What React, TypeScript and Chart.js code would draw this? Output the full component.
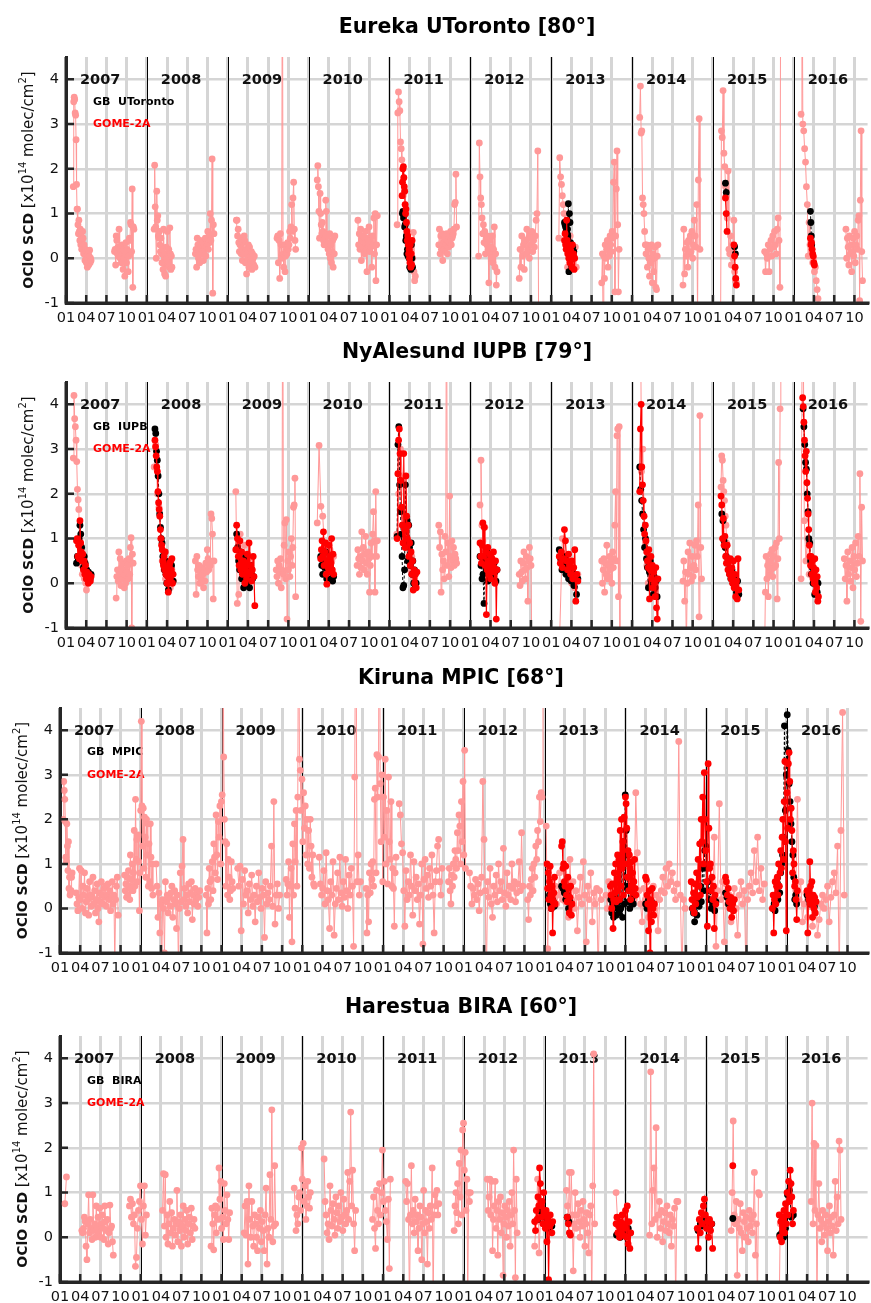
import React, { useEffect, useRef } from 'react';
import { Chart, registerables } from 'chart.js';

Chart.register(...registerables);

// Each segment: [start decimal year, end decimal year, OClO SCD values (x1e14 molec/cm2)]
type Seg = [number, number, number[]];

const yearStarts = [2007, 2008, 2009, 2010, 2011, 2012, 2013, 2014, 2015, 2016];
const yearLabels = ['2007', '2008', '2009', '2010', '2011', '2012', '2013', '2014', '2015', '2016'];
const quarterLabels = ['01', '04', '07', '10'];

// ---------------- Eureka UToronto ----------------
const eurekaGome: Seg[] = [
  [2007.09, 2007.31, [1.6, 3.5, 3.6, 3.55, 3.25, 3.2, 2.65, 1.65, 1.1, 1.1, 0.75, 0.55, 0.85, 0.6, 0.4, 0.65, 0.3, 0.5, 0.2, 0.35, 0.6, 0.45, 0.1, 0.3, 0.15, -0.05, 0.2, 0.05, -0.1, 0.15, -0.2, 0, 0.1, -0.15, 0.05, 0.18, -0.1, 0, -0.05]],
  [2007.60, 2007.84, [0.15, 0.2, -0.15, 0.5, 0.4, 0.1, 0.25, 0.05, 0.65, 0.2, 0, 0.15, -0.1, 0.3, 0.1, -0.25, 0.2, 0, -0.4, 0.1, 0.35, -0.1, 0.2, 0.15, -0.3, 0.05, 0.45, 0.4, 0.8, 0.75, 0.15, 1.55, -0.65, 0.7, 0.65]],
  [2008.09, 2008.31, [0.65, 2.08, 1.15, 0.7, 0, 1.5, 0.85, 0.95, 0.5, 0.45, 0.6, 0.3, 0.15, 0.45, 0.1, -0.1, 0.2, -0.25, 0.65, 0.05, -0.35, 0.1, -0.4, 0.25, 0, 0.6, 0.1, -0.1, 0.2, -0.2, 0.68, 0.1, -0.25, 0.05, -0.2]],
  [2008.60, 2008.83, [0.1, 0.2, -0.2, 0.45, 0.3, 0, 0.2, -0.1, 0.4, 0.25, 0.15, 0.1, 0.35, -0.05, 0.3, 0.2, 0.45, 0.05, 0.25, 0.3, 0.6, 0.2, 0.5, 0.35, 1.0, 0.4, 0.85, 2.22, -0.78, 0.75, 0.55]],
  [2009.107, 2009.337, [0.85, 0.85, 0.5, 0.65, 0.35, 0.15, 0.3, 0.45, 0.1, 0.2, -0.05, 0.35, 0.1, 0.5, 0.4, -0.1, 0.2, -0.35, 0.1, 0, 0.3, -0.2, 0.25, 0.05, -0.1, 0.15, -0.25, 0.1, 0, -0.15, 0.05, -0.2]],
  [2009.61, 2009.84, [0.45, 0.5, -0.1, 0.4, -0.45, 0.55, 0.3, 0, 8, 0.1, -0.2, 0.3, -0.3, 0.05, 0.2, 0.1, 0.35, 0.2, 0.3, 0.6, 0.45, 0.7, 1.2, 0.6, 1.35, 1.7, 0.65, 0.4, 0.2]],
  [2010.107, 2010.325, [1.75, 2.07, 1.6, 1.05, 0.45, 1.45, 1.0, 0.75, 0.55, 0.8, 0.6, 0.4, 0.3, 0.55, 0.45, 1.3, 1.05, 0.3, 0.5, 0.2, 0.35, 0.1, 0.55, 0, 0.3, -0.1, 0.15, 0.4, -0.2, 0.45, 0.1, 0.5]],
  [2010.61, 2010.85, [0.85, 0.3, 0.55, 0.2, 0.65, -0.05, 0.4, 0.25, 0.5, 0.1, 0.35, 0.6, 0.2, -0.3, 0.45, 0.3, 0.7, 0.15, 0.4, 0.25, -0.2, 0.5, 0.3, 0.9, 0.1, 1.0, -0.5, 0.3, 0.95]],
  [2011.095, 2011.32, [0.75, 3.25, 3.72, 3.5, 3.3, 2.6, 2.45, 2.2, 2.0, 1.4, 1.8, 1.5, 1.2, 1.0, 0.8, 0.5, 0.6, 0.3, 0.1, 0.2, -0.1, 0.15, -0.2, 0, 0.58, -0.3, -0.5, -0.4]],
  [2011.61, 2011.83, [0.3, 0.65, 0.1, 0.5, 0.2, 0.55, -0.05, 0.35, 0.2, 0.45, 0.15, 0.3, 0.55, 0.1, 0.4, 0.25, 0.5, 0.35, 0.6, 0.3, 0.45, 0.5, 0.55, 0.65, 1.2, 1.25, 1.88, 0.7]],
  [2012.103, 2012.33, [0.05, 2.58, 1.82, 1.35, 1.2, 0.9, 0.55, 0.75, 0.35, 0.6, 0.1, 0.45, 0.3, 0.5, 0.2, -0.55, 0.4, 0.1, 0.25, 0, 0.5, -0.1, 0.2, 0.7, -0.2, 0.1, -0.6, -0.3]],
  [2012.605, 2012.845, [-0.45, 0.2, -0.2, 0.5, 0.05, 0.3, -0.25, 0.4, 0.1, 0.65, 0.2, 0.45, 0, 0.55, 0.3, 0.6, 0.15, 0.4, 0.25, 0.5, 0.85, 1.0, 2.4, -1.5]],
  [2013.095, 2013.31, [0.45, 2.25, 1.82, 1.65, 1.4, 1.2, 1.0, 0.8, 0.6, 0.3, -0.2, 0.4, 0.2, 0.5, 0.1, 0.3, -0.1, 0.2, 0, 0.25, -0.2]],
  [2013.625, 2013.84, [-0.55, 0.1, -1.5, 0.05, -0.45, 0.3, 0, 0.2, 0.4, -0.2, 0.25, 0.05, 0.5, 0.3, 0.15, 0.6, 0.45, 1.7, 2.15, -0.75, 0.5, 1.55, 2.4, 0.75, -0.75, 0.2]],
  [2014.095, 2014.32, [3.15, 3.85, 2.8, 2.85, 1.35, 1.2, 1.0, 0.6, 0.3, 0.1, 0.3, -0.2, 0.2, 0, -0.4, 0.25, -0.1, 0.3, -0.55, 0.1, -0.3, 0, 0.25, -0.65, -0.7, 0.05, 0.3]],
  [2014.63, 2014.84, [-0.6, 0.65, -0.35, 0.2, 0.05, 0.35, -0.2, 0.4, 0.1, 0.5, 0.15, 0.6, 0, 0.3, 0.85, 0.5, 0.25, 1.2, -1.3, 1.75, 3.12, 0.2]],
  [2015.095, 2015.29, [-1.5, 2.85, 2.7, 3.75, 2.35, 2.05, 1.6, 1.4, 0.9, 1.95, 0.2, 0.1, 0.5, -0.15, 0.3, 0, 0.85, -0.3, -0.5, -0.55]],
  [2015.64, 2015.84, [0.15, -0.3, 0.1, 0, 0.3, -0.3, 0.2, 0.4, 0.05, 0.5, 0.25, 0.6, 0.3, 0.1, 0.65, 0.9, 0.4, -0.65, 8]],
  [2016.09, 2016.30, [3.22, 8, 3.0, 2.85, 2.45, 2.15, 1.6, 1.2, 0.05, 0.8, 0.3, 0.1, 0.2, -0.1, 0, -0.3, -0.2, -0.5, -0.7, -0.9]],
  [2016.645, 2016.85, [0.65, 0, 0.45, 0.25, -0.15, 0.5, 0.1, 0.3, -0.3, 0.15, 0.45, 0.05, 0.6, -0.1, 0.3, 0.5, 0.2, 0.85, 0.95, -0.95, 1.3, 2.85, 0.15, -0.5]],
];
const eurekaCoinc: Seg[] = [
  [2011.156, 2011.28, [1.4, 1.7, 2.0, 2.05, 1.8, 1.6, 1.5, 1.2, 1.0, 1.1, 0.8, 0.6, 0.4, 0.5, 0.3, 0.1, 0.2, 0, -0.1, 0.3, -0.2, 0.1, -0.15, 0.4]],
  [2013.165, 2013.29, [0.4, 0.55, 0.3, 0.2, 0.85, 0.4, 0.1, 0.3, 0, 0.25, -0.1, 0.2, 0.15, 0, -0.2, 0.3, 0.05, 0.1, -0.25, 0]],
  [2015.155, 2015.175, [1.35, 1.0, 0.6]],
  [2015.26, 2015.29, [0.3, 0.05, -0.2, -0.45, -0.6]],
  [2016.206, 2016.255, [0.45, 0.3, 0.35, 0.2, 0.1, 0.05, -0.1, -0.15]],
];
const eurekaGB: Seg[] = [
  [2011.16, 2011.285, [1.0, 1.05, 0.9, 0.95, 0.7, 0.75, 0.4, 0.5, 0.1, 0.2, 0.05, 0.3, 0, -0.2, 0.1, -0.25, 0.3, 0, -0.2]],
  [2013.165, 2013.28, [0.8, 0.75, 0.7, 0.6, 0.55, 0.65, 0.5, 1.22, -0.3, 1.0, 0.8, 0.35, 0.2, 0.1, 0, 0.25, 0.05, 0.15]],
  [2015.155, 2015.165, [1.68, 1.47]],
  [2015.268, 2015.278, [0.26, 0.1]],
  [2016.206, 2016.222, [1.05, 0.8, 0.5, 0.3]],
];

// ---------------- NyAlesund IUPB ----------------
const nyGome: Seg[] = [
  [2007.09, 2007.27, [2.8, 4.2, 3.68, 3.5, 3.2, 2.72, 2.1, 1.87, 1.65, 1.0, 0.6, 0.85, 0.4, 0.2, 0.55, 0.3, 0.1, 0.45, 0, -0.15, 0.2, 0.1]],
  [2007.62, 2007.83, [-0.33, 0.15, 0.3, 0.05, 0.7, 0.2, 0.55, -0.05, 0.35, 0.1, 0.45, 0.2, -0.1, 0.3, 0, 0.5, 0.25, 0.4, 0.1, 0.55, 0.2, 0.8, 1.02, -1.0, 0.65, 0.45]],
  [2008.09, 2008.33, [2.6, 3.1, 2.0, 1.7, 1.0, 0.5, 0.3, 0.1, 0.4, 0.2, -0.1, 0.3, 0.05]],
  [2008.60, 2008.83, [0.5, -0.25, 0.6, 0.3, 0.15, 0.4, 0, 0.25, 0.1, 0.35, 0.2, -0.1, 0.3, 0.05, 0.45, 0.25, 0.75, 0.55, 0.3, 0.5, 0.4, 1.55, 1.45, 1.1, -0.35, 0.5]],
  [2009.10, 2009.30, [2.05, -0.45, -0.25, 1.1, 0.6, 0.2, 0.85, 0.4, 0, 0.5, 0.3, 0.1]],
  [2009.60, 2009.84, [0.3, 0.15, 0.5, 0, 0.4, 0.25, 0.55, -0.1, 0.3, 8, 0.2, 0.85, 1.35, 0.1, 1.42, -0.8, 0.5, 0.3, 0.7, 0.15, 0.6, 1.0, 0.4, 0.8, 1.7, 1.75, 2.35, -0.3]],
  [2010.107, 2010.31, [1.35, 3.08, 1.72, 1.5, 0.8, 0.9, 0.65, 0.75, 0.5, 0.6]],
  [2010.60, 2010.85, [0.4, 0.75, 0.55, 0.2, 0.6, 0.35, 1.15, 0.5, 0.8, 0.3, 0.65, 1.05, 0.45, 0.2, 0.7, 0.55, -0.2, 0.4, 0.9, 0.6, 1.1, 1.6, 0.95, -0.2, 2.05, 0.6, 0.95]],
  [2011.09, 2011.30, [1.1, 2.0, 3.0, 2.4, 1.5, 0.8, 0.5, 0.3, 0.6, 0.1]],
  [2011.61, 2011.83, [1.3, 0.8, 1.15, -0.2, 0.65, 0.3, 0.5, 0.1, 1.05, 0.7, 8, 0.4, 0.9, 0.15, 1.95, 0.6, 0.35, 0.95, 0.5, 0.8, 0.4, 0.65, 0.55, 0.45]],
  [2012.12, 2012.18, [1.75, 2.75, 1.3, 0.95, 0.7, 1.25]],
  [2012.605, 2012.76, [0.2, -0.05, 0.5, 0.25, 0.05, 0.45, 0.7, 0.3, 0.1, 0.6, 0.35, -0.4, 0.5, 0.8, 0.55, 0.4, -1.5]],
  [2013.10, 2013.33, [-1.5, 1.0, 0.5, 0.3, 0, -0.1, 0.2]],
  [2013.625, 2013.85, [0.5, 0, 0.3, 0.55, -0.2, 0.45, 0.2, 0.85, 0.1, 0.4, 0.15, 0.6, 0.3, 0.5, 0, 0.7, 0.35, 0.55, 1.3, 2.05, 0.5, 3.3, 3.45, -0.3, 3.5, -1.5]],
  [2014.10, 2014.20, [8, 2.5, 3.0, 1.5, 0.9, 0.4, 0]],
  [2014.63, 2014.86, [0.05, 0.5, -0.4, 0.25, -1.5, 0, 0.7, 0.2, 0.9, 0.35, 0.05, 0.6, 0.15, 0.4, 0.85, 0.3, 0.95, 0.6, 1.75, -0.75, 3.75, 0.8, 0.1]],
  [2015.10, 2015.17, [2.15, 2.85, 2.75, 2.3, 2.05, 1.85, 1.5, 1.3, 0.9]],
  [2015.64, 2015.84, [-1.5, -0.2, 0.6, 0.1, 0.4, -0.3, 0.5, 0.2, 0.65, 0.3, 0.75, 0.15, 0.6, 0.35, 0.8, 0.4, 0.9, -0.35, 0.55, 2.7, 1.0, 3.9, 8]],
  [2016.09, 2016.19, [0.1, 8, 1.4, 0.5, 1.0, 0.2]],
  [2016.625, 2016.85, [0.55, 0.1, 0.4, -0.4, 0.7, 0.2, 0.5, 0.05, 0.35, 0.8, -0.1, 0.6, 0.3, 0.9, 0.15, 0.45, 1.05, 0.6, 2.45, -0.85, 1.7, 0.5]],
];
const nyCoinc: Seg[] = [
  [2007.13, 2007.31, [0.95, 1.0, 0.6, 0.85, 0.55, 1.4, 0.9, 0.7, 0.5, 0.65, 0.3, 0.5, 0.2, 0.4, 0.1, 0.25, 0.15, 0, 0.2, 0.1, 0.05, 0.15]],
  [2008.10, 2008.325, [3.2, 3.05, 2.85, 2.6, 2.5, 2.05, 1.8, 1.65, 1.5, 1.2, 1.0, 0.85, 0.75, 0.5, 0.4, 0.6, 0.3, 0.7, 0.2, 0.35, 0, 0.15, -0.2, 0.25, 0.45, 0.1, 0.5, 0.3, 0.55, 0, 0.2]],
  [2009.10, 2009.335, [0.75, 1.3, 1.0, 0.6, 0.4, 0.95, 0.3, 0.7, 0.2, 0.5, 0.35, 0, 0.45, 0.1, 0.65, 0.25, 0.9, 0.2, 0.4, 0.05, 0.3, 0.6, 0.15, -0.5]],
  [2010.15, 2010.31, [0.55, 0.75, 0.95, 0.6, 1.15, 0.4, 0.7, 0.9, 0.2, -0.02, 0.5, 0.35, 0.85, 0.6, 0.25, 0.45, 1.0, 0.3, 0.65, 0.2]],
  [2011.095, 2011.34, [1.0, 2.45, 3.2, 3.45, 2.9, 2.3, 1.7, 1.3, 0.9, 2.9, 1.2, 0.8, 2.4, 1.5, 1.0, 1.3, 0.6, 0.9, 0.4, 0.7, 0.2, 0.5, -0.15, 0.3, 0, 0.2, -0.1, 0.25]],
  [2012.12, 2012.33, [0.9, 0.6, 0.45, 0.85, 1.35, 0.6, 1.25, 0.4, 0.7, -0.7, 0.3, 0.8, 0.5, 0.2, 0.65, 0.1, 0.45, 0.55, 0.25, 0.7, 0.35, 0, 0.5, -0.8, 0.3]],
  [2013.10, 2013.33, [0.6, 0.45, 0.7, 0.35, 0.55, 1.2, 0.95, 0.5, 0.3, 0.65, 0.4, 0.2, 0.5, 0.1, 0.35, 0.75, -0.4, 0.2, 0.05]],
  [2014.095, 2014.32, [2.05, 3.45, 4.0, 2.6, 2.2, 1.85, 1.5, 1.1, 1.3, 0.95, 0.7, 0.5, 0.35, 0.75, -0.35, 0.3, 0.6, 0.1, 0.4, -0.1, 0.25, 0, -0.3, 0.35, -0.55, -0.8, 0.1]],
  [2015.10, 2015.32, [1.95, 1.75, 1.0, 1.45, 0.85, 1.05, 0.6, 0.45, 0.85, 0.3, 0.5, 0.2, 0.55, 0.1, 0.35, 0, 0.5, -0.1, 0.2, -0.3, 0.05, -0.35, 0.55, -0.15]],
  [2016.11, 2016.305, [4.15, 3.95, 3.6, 3.2, 2.85, 2.5, 2.95, 2.25, 1.9, 1.55, 1.2, 0.85, 0.6, 0.4, 0.6, 0.2, 0.5, 0.1, 0.35, 0, 0.55, -0.2, 0.3, -0.1, 0.15, -0.4, -0.3]],
];
const nyGB: Seg[] = [
  [2007.13, 2007.31, [0.45, 0.6, 0.55, 1.0, 1.3, 1.1, 0.8, 0.5, 0.35, 0.6, 0.45, 0.2, 0.3, 0.1, 0.25, 0.05, 0.1, 0.2]],
  [2008.10, 2008.325, [3.45, 3.35, 2.95, 2.75, 2.4, 2.0, 1.55, 1.25, 1.0, 0.9, 0.6, 0.45, 0.3, 0.5, 0.2, 0, 0.35, -0.15, 0.1, 0.3, 0.05, 0.4, 0.2, 0.05]],
  [2009.11, 2009.32, [1.1, 0.8, 0.5, 0.3, 0.7, 0.1, 0.45, -0.1, 0.25, 0.6, 0, 0.35, 0.15, -0.1, 0.4, 0.2, 0.1, 0.15]],
  [2010.15, 2010.31, [0.6, 0.4, 0.2, 0.5, 0.35, 0.7, 0.1, 0.45, 0.3, 0.55, 0.1, 0.25, 0.05, 0.15]],
  [2011.095, 2011.33, [1.05, 3.1, 3.5, 2.2, 1.6, 1.1, 0.6, -0.1, -0.05, 0.3, 2.2, 0.9, 1.4, 0.5, 1.3, 0.8, 0.4, 0.9, 0.2, 0.5, 0, 0.3, -0.05, 0]],
  [2012.12, 2012.33, [0.6, 0.4, 0.1, 0.2, -0.45, 0.5, 0.3, 0.7, 0.05, 0.4, 0.6, 0.15, 0.35, 0.1, 0.45, 0.25, 0.05, 0.3]],
  [2013.10, 2013.33, [0.75, 0.55, 0.3, 0.45, 0.6, 0.2, 0.4, 0.1, 0.3, 0.05, 0.25, -0.05, 0.15, -0.25, 0.1]],
  [2014.095, 2014.31, [2.6, 2.1, 1.85, 1.55, 1.2, 0.8, 1.0, 0.55, 0.35, -0.1, 0.25, 0.5, 0, 0.3, -0.25, 0.15, -0.1, 0.05, -0.3]],
  [2015.11, 2015.32, [1.55, 1.4, 0.95, 0.8, 0.6, 0.45, 0.3, 0.2, 0.1, 0.3, 0, 0.15, -0.1, -0.2, 0.05, -0.25]],
  [2016.115, 2016.30, [3.9, 3.5, 3.1, 2.7, 2.55, 2.0, 1.6, 1.0, 0.9, 0.5, 0.2, 0.35, 0, 0.15, -0.25, 0.1, 0.05, -0.2, 0]],
];

// ---------------- Kiruna MPIC ----------------
const kirunaGome: Seg[] = [
  [2007.04, 2007.15, [2.0, 2.85, 2.65, 2.45, 1.95, 1.15, 1.05, 1.9, 1.4, 0.85, 1.5, 0.45, 0.7, 0.3, 0.35, 0.4, 0.7, 0.8]],
  [2007.20, 2007.72, [0.35, 0.1, -0.05, 0.25, 0.9, 0.2, 0.85, 0, 0.5, 0.3, 0.8, -0.1, 0.15, 0.45, 0.2, -0.15, 0.6, 0.3, 0.05, 0.25, 0.7, 0.1, 0.4, -0.1, 0.2, 0.55, 0, -0.3, 0.35, 0.15, 0.6, 0.3, 0.1, 0.45, 0.25, 0.5, 0.05, 0.3, 0.55, 0.2, 0.4, -0.05, 0.25, 0.6, 0.1, 0.3, -1.3, 0.2, 0.5, 0.7, -0.15]],
  [2007.80, 2008.15, [0.75, 0.4, 0.55, 0.25, 0.7, 0.3, 0.85, 0.5, 0.2, 1.2, 0.45, 0.65, 1.0, 0.4, 0.8, 1.75, 0.5, 2.45, 1.1, 1.55, 0.6, 1.65, 1.05, -0.05, 0.8, 2.2, 4.2, 2.3, 1.4, 2.25, 0.9, 2.05, 1.6, 0.7, 2.0, 1.2, 1.9, 0.5, 1.45, 0.6, 1.9, 1.15, 0.45, 1.0, 0.3]],
  [2008.19, 2008.73, [1.0, 0.5, -0.2, 0.35, -0.55, 0.1, -1.5, 0.2, 0, -1.0, 0.6, 0.15, 0.3, -0.1, 0.25, 0.05, 0.35, 0.5, -0.2, 0.2, 0.4, 0.1, -0.45, 0.3, -1.3, 0, 0.8, 0.15, 0.95, 1.55, 0.2, 0.45, 0.05, 0.3, -0.1, 0.55, 0.15, 0.35, 0.6, -0.25, 0.3, 0.1, 0.45, 0.2, 0.35, 0.05, 0.25, 0.4]],
  [2008.81, 2009.14, [0.3, -0.55, 0.45, 0.1, 0.9, 0.6, 0.2, 0.65, 1.05, 0.4, 1.45, 1.15, 0.8, 2.1, 1.2, 0.65, 1.95, 1.6, 2.3, 1.0, 2.4, 2.55, 8, 3.4, 2.0, 1.5, 0.5, 1.45, 0.3, 1.1, 0.7, 0.2, 0.4, 1.05, 0.6, 0.45]],
  [2009.20, 2009.72, [0.9, 0.5, 0.95, -0.5, 0.65, 0.1, 0.85, 0.3, 0.4, -0.1, 0.55, 0.2, 0.75, 0.05, 0.3, -0.3, 0.5, 0.15, 0.8, 0.25, 0, 0.45, 0.3, -0.65, 0.6, 0.1, 0.35, 0.2, 0.5, 1.4, 0.05, 2.4, -0.35, 0.3, 0.55, 0, 0.3]],
  [2009.80, 2010.15, [0.65, 0.3, 0.55, 1.05, -0.2, 0.5, 0.9, -0.75, 1.45, 0.3, 1.9, 1.05, 2.2, 0.5, 2.5, 8, 3.35, 3.1, 2.2, 2.9, 1.5, 2.6, 1.8, 2.3, 1.2, 2.0, 1.0, 1.75, 0.9, 2.0, 1.4, 0.7, 1.2, 0.55, 0.5]],
  [2010.21, 2010.72, [1.15, 0.55, 0.3, 0.45, 0.85, 0.1, 1.25, 0.4, 0.2, -0.45, 0.6, 0.3, 1.05, -0.6, 0.1, 0.45, 0.8, 0.2, 1.15, 0.35, 0.05, 0.6, 0.25, 1.1, 0.4, 0, 0.75, 0.3, 0.9, 0.5, -0.85, 2.95, 8, 0.6, 1.2, 0.3, 0.6]],
  [2010.79, 2011.16, [0.45, -0.55, 0.3, -0.3, 0.8, 0.35, 1.0, 0.65, 1.05, 0.5, 2.45, 2.7, 0.8, 3.45, 2.5, 3.4, 8, 2.8, 1.5, 3.0, 0.6, 2.5, 1.6, 3.35, 1.0, 2.2, 0.55, 2.95, 1.5, 1.1, 2.4, 0.5, 0.9, 0.45, -0.4, 0.8, 1.15]],
  [2011.20, 2011.73, [2.35, 2.1, 1.45, 1.25, 0.4, -0.4, 0.85, 0.2, 0.6, 0.3, 1.2, 0.5, -0.15, 1.05, 0.4, 0.7, 0.2, 0.55, -0.35, 0.3, 1.0, -0.8, 0.65, 1.1, 0.45, 0.75, 0.25, 0.9, 0.5, 1.2, 0.3, -0.55, 0.6, 0.85, 1.4, 1.55, 0.6, 0.3, 0.9]],
  [2011.81, 2012.02, [0.6, 0.9, 0.4, 0.1, 0.75, 0.5, 1.0, 0.7, 1.3, 1.1, 0.9, 1.7, 1.3, 2.1, 1.85, 1.0, 2.4, 1.5, 2.85, 1.2, 3.55, 0.9]],
  [2012.07, 2012.73, [0.8, 0.5, 0.1, 0.45, 0.3, 0.65, 0.2, 0.55, -0.05, 0.35, 0.7, 2.85, 1.55, 0.4, -1.5, 0.6, 0.25, 0.9, 0.1, -0.2, 0.5, 0.3, 0.75, 0.15, 1.0, 0.4, 0.6, 0.2, 1.35, 0.35, 0.05, 0.8, 0.3, 0.5, 0.2, 1.0, 0.45, 0.6, 0.15, 0.35, 0.55, 1.05, 0.4, 1.7, 0.5]],
  [2012.79, 2012.98, [0.2, -0.25, 0.5, 0.3, 0.65, 0.9, 0.4, 1.0, 0.7, 1.4, 1.1, 1.75, 1.5, 2.5, 1.95, 2.6, 2.5, 8]],
  [2013.02, 2013.70, [1.85, -0.9, 0.9, 0.4, 0.6, 0.2, 0.5, 0.1, 0.3, 0.8, 0.4, 0.2, 0.5, 0.15, 0.35, -0.2, 1.1, 0.2, 0.6, 0, 0.4, -0.5, 0.25, 0.7, 0.1, 1.05, 0.3, -0.75, 0.5, 0.2, 0.8, -0.3, 0.35, 0.1, 0.45, -1.5, 0.4, 0.2]],
  [2013.76, 2013.81, [0.3, 0, 0.6, 0.2]],
  [2014.05, 2014.74, [0.6, 0.3, 1.0, 0.2, 2.6, 1.25, 0.4, 0.1, -0.3, 0.45, 0.2, 0.6, -0.2, 0.35, 0.1, 0.5, 0, 0.3, -0.5, 0.2, 0.4, 0.7, 0.35, 0.9, 0.5, 1.0, 0.6, 0.8, 0.4, 0.2, 0.55, 3.75, 0.3, -1.5, 0.2, 0]],
  [2015.06, 2015.72, [0.3, 0, 1.6, -0.85, 0.4, 2.35, 0.2, 0.6, -0.75, 0.55, 0.1, 0.3, -0.3, 0.2, 0.45, 0, -0.6, 0.3, 0.6, 0.1, 0.4, -1.5, 0.2, 0.5, 0.8, 0.35, 1.3, 0.6, 1.6, 0.4, 0.9, 0.2, 0.55]],
  [2016.11, 2016.71, [0.4, 2.45, 0.2, 0.6, -0.3, 0.1, 0.35, -0.2, 0.05, 0.2, -0.4, 0, 0.15, -0.6, -0.25, 0.1, 0.3, 0, 0.2, 0.5, -0.3, 0.25, 0.6, 0.8, 0.35, 1.4, -1.5, 1.75, 4.4, 0.3]],
];
const kirunaCoinc: Seg[] = [
  [2013.03, 2013.13, [1.0, 0.45, 0.8, 0.2, 0.6, 0.95, 0.3, 0, 0.5, -0.55, 0.15, 0.35, 0.7, 0.1]],
  [2013.21, 2013.34, [1.4, 1.5, 0.9, 1.0, 0.6, 0.5, 0.95, 0.3, 0.15, 0.7, 0.45, -0.1, 0.25, 0.5, -0.15, 0.1]],
  [2013.815, 2014.13, [0.5, 0.3, 0, 0.55, -0.45, 0.2, 0.8, 0.35, 1.0, 0.15, 0.6, 1.2, 0.4, 1.1, 0.2, 1.75, 0.5, 2.0, 0.9, 1.5, 0.3, 2.05, 1.0, 2.5, 2.35, 1.8, 0.7, 1.3, 0.4, 1.2, 0.9, 0.2, 1.05, 0.5, 0.8, 0.35, 0.6, 1.1, 0.45, 0.3]],
  [2014.25, 2014.36, [0.7, 0.65, 0.3, 0.1, -0.5, 0.4, -1.0, 0.2, -0.3, 0.45, 0, -0.15, 0.1]],
  [2014.815, 2015.12, [0.6, 0.2, 0, 0.35, -0.1, 0.55, 0.1, 0.8, 0.25, 1.1, 0.5, 1.45, 0.3, 2.0, 1.5, 2.5, 1.0, 3.05, 2.0, 1.3, 0.6, -0.4, 3.25, 1.8, 0.9, 1.0, 0.4, 0.7, 0.2, 0.5, -0.45, 0.3, 0.1]],
  [2015.24, 2015.35, [0.7, 0.6, 0.3, 0.45, 0.15, 0, 0.25, -0.2, 0.1, -0.05, 0.2]],
  [2015.82, 2016.13, [0, 0.3, -0.55, 0.2, 0.6, 0.1, 0.5, 0.7, 0.3, 1.0, 0.5, 0.8, 1.3, 0.9, 1.6, 2.0, 1.1, 2.4, 3.3, 1.5, -0.5, 2.6, 1.8, 3.25, 3.5, 2.85, 2.0, 2.25, 1.75, 0.8, 1.3, 1.0, 0.5, 0.6, 0.2, -0.25, 0.4]],
  [2016.25, 2016.36, [0.4, -0.55, 0.3, 0.2, 1.05, 0.5, 0.1, 0.6, -0.2, 0.3, 0, 0.25, -0.1, 0.15]],
];
const kirunaGB: Seg[] = [
  [2013.06, 2013.12, [0.3, 0.1, 0, 0.2, 0.15, 0.05]],
  [2013.21, 2013.33, [0.5, 0.45, 0.35, 0.2, 0.3, 0, 0.15, 0.1]],
  [2013.82, 2014.11, [0.2, -0.1, 0.1, -0.2, 0.05, 0.3, -0.15, 0, 0.15, -0.1, 0.2, 0, 1.0, -0.2, 1.5, 0.1, 2.55, 1.75, 1.2, 0.5, 0.15, 0, 0.8, 0.2, 0.45, 0.1, 0.3]],
  [2014.25, 2014.34, [0.1, 0, 0.2, 0.05, 0.15, 0.1]],
  [2014.83, 2015.12, [0, -0.1, -0.3, 0.1, -0.15, 0.2, 0.05, 0.5, 0.15, 0.9, 0.4, 1.3, 1.4, 0.9, 0.6, 0.2, 0.4, 0, 0.1, 0.2, -0.05, 0.15]],
  [2015.24, 2015.33, [0.35, 0.25, 0.1, 0.2, 0, 0.15]],
  [2015.83, 2016.12, [0, 0.1, -0.05, 0.15, 0.3, 0.2, 0.5, 0.35, 0.8, 1.0, 1.2, 1.6, 4.1, 2.2, 3.0, 4.35, 3.55, 2.8, 2.4, 1.9, 1.5, 1.2, 0.7, 0.2, 0.3, 0.1]],
  [2016.25, 2016.34, [0.3, 0.2, 0.1, 0.25, 0.15, 0.05]],
];

// ---------------- Harestua BIRA ----------------
const harestuaGome: Seg[] = [
  [2007.06, 2007.08, [0.75, 1.35]],
  [2007.27, 2007.66, [0.15, 0.1, 0.2, 0.45, 0.35, -0.2, -0.5, 0.3, 0.95, 0.1, 0.4, 0.2, -0.05, 0.95, 0.15, 0.3, 0, 0.7, 0.2, 0.45, 0.1, 0.65, 0, 0.3, 0.5, 0.2, -0.05, 0.7, 0.35, 0.15, 0.4, -0.15, 0.1, 0.72, 0.2, 0.25, -0.1, -0.4]],
  [2007.86, 2008.07, [0.7, 0.85, 0.45, 0.75, 0.3, 0.5, -0.65, -0.45, 0.2, 0.6, 0.8, 1.15, 0.4, -0.15, 0.7, 1.15, 0.05, 0.5]],
  [2008.27, 2008.67, [0.6, 1.42, 0.25, 1.4, 0, 0.5, -0.15, 0.3, 0.8, 0.1, 0.55, -0.2, 0.2, 0.4, 0.05, 0.3, 1.05, -0.1, 0.35, 0.15, 0.5, -0.2, 0.25, 0.7, 0, 0.4, 0.15, 0.6, -0.15, 0.3, 0.45, 0.1, 0.65, -0.05, 0.25, 0.4, 0.2]],
  [2008.87, 2009.10, [-0.2, 0.65, 0.3, -0.28, 0.5, 0.7, 0.1, 0.65, 0.4, 1.55, 0.85, 1.25, 0.2, 0.45, -0.05, 1.2, 0.6, 0.3, 0.95, 0.4, -0.05, 0.55]],
  [2009.28, 2009.67, [0.1, 0.7, 0.05, 0.8, -0.6, 1.15, 0.4, 0, 0.8, 0.25, -0.2, 0.5, 0.3, 0, -0.3, 0.45, 0.2, 0.6, -0.1, 0.35, 0.15, -0.3, 0.5, 1.1, -0.6, 0.2, 0, 1.4, 0.4, 2.85, -0.1, 0.25, 1.6, 0.3]],
  [2009.90, 2010.10, [1.1, 0.65, 0.15, 0.5, 0.3, 0.9, 1.0, 0.6, 2.0, 1.3, 2.1, 0.8, 1.15, 0.4, 0.7, 1.25, 0.9, 0.65, 1.0]],
  [2010.27, 2010.66, [1.75, 0.8, 0.5, 0.1, 0.3, -0.05, 1.15, 0.6, 0.25, 0.75, 0.4, 0.05, 0.9, 0.55, 0.2, 0.7, 0.35, 1.0, 0.45, 0.15, 0.85, 0.5, 0.3, 0.6, 1.45, 0.4, 1.25, 2.8, 0.7, 1.5, 0.3, -0.3, 0.6]],
  [2010.87, 2011.09, [0.4, 0.9, 0.2, -0.25, 1.05, 0.6, 0.3, 1.2, 0.5, 1.0, 1.95, 0.8, 1.25, 0.6, 0.35, -0.05, 0.85, -0.7, 1.3]],
  [2011.28, 2011.69, [1.25, 0.8, 1.2, 0.4, -1.5, 0.5, 1.6, 0.3, 0.6, 0.1, 0.85, 0.35, 0.5, -0.3, 0.2, 0.7, 0.45, -0.5, 0.3, 1.05, 0.1, 0.6, 0.35, -0.6, 0.55, 0.2, 0.7, 0.4, 1.55, -1.5, 0.5, 0.95, 0.7, 1.05, 0.5, 0.75]],
  [2011.88, 2012.08, [0.15, 0.7, 1.0, 0.55, 1.2, 0.3, 1.65, 0.9, 1.95, 0.5, 2.4, 2.55, 1.5, 1.9, 0.6, 1.3, -1.5, 1.0, 0.8, 1.0]],
  [2012.29, 2012.66, [1.3, 0.6, 0.9, 1.3, 0.5, 1.25, -0.3, 0.4, 0.7, 1.25, 0.2, 0.6, -0.4, 0.8, 0.4, 0.9, 0.1, 0.55, -0.85, 0.3, 0.7, 0.45, 0, 0.6, 0.25, 0.8, -0.2, 0.5, 1.0, 0.3, 1.95, 0.6, -0.9, 1.3, 0.1]],
  [2012.877, 2012.95, [-0.2, 0.35, 1.3, -0.35, 0.5]],
  [2013.27, 2013.62, [1.05, 0.7, 0.45, 1.45, 0.3, 1.45, 0.5, -0.75, 0.3, 1.0, 0.2, 0.5, 0.75, 0.35, 0, 0.6, 0.25, 0.8, 0.4, -0.2, 0.3, 0.55, 0.1, -0.35, 0.5, 0.7, -1.5, 1.15, 4.1, 0.3]],
  [2013.885, 2013.92, [1.0, 0.4, 0.2]],
  [2014.30, 2014.65, [0.05, 3.7, 0.3, 1.05, 1.55, 0.4, 2.45, 0, 0.5, 0.8, 0.2, 0.6, -0.1, 0.35, 0.55, 0.15, 0.7, 0.3, 0.1, 0.5, -0.2, 0.4, 0.25, 0.65, -1.5, 0.8, 0.8]],
  [2015.31, 2015.66, [0.15, 1.0, 2.6, 0.5, 0.3, 0.8, -0.85, 0.4, 0.2, 0.75, 0.1, -0.3, 0.55, 0.35, 0, 0.45, 0.2, -0.1, 0.6, 0.25, 0.4, 0.1, 0.5, 1.45, -0.4, 0.3, -1.5, 1.0, 0.95]],
  [2015.905, 2015.93, [-1.5, 0.3, 0.5]],
  [2016.30, 2016.67, [0.8, 3.0, 0.3, 2.1, 0.6, 2.05, -1.5, 0.5, 1.2, 0.2, 0.4, -0.1, 0.6, 0.3, 0.05, 0.5, 0.2, -0.3, 0.35, 0.7, 0.1, 0.45, 0.25, -0.4, 0.5, 1.25, 0.15, 0.9, 0.3, 2.15, 1.95, 0.4]],
];
const harestuaCoinc: Seg[] = [
  [2012.877, 2013.10, [0.35, 0.15, 0.6, 0.4, 0.9, 0.7, 1.55, 1.2, 0.45, 0.8, 0.3, 1.0, 0.5, 0.2, 0.6, -0.1, 0.4, -0.95, 0.25, 0.5, 0.3, 0.1, 0.35]],
  [2013.28, 2013.32, [0.45, 0.3, 0.1, 0.05]],
  [2013.885, 2014.066, [0.3, 0.45, 0.1, 0.25, 0, 0.35, 0.15, 0.5, 0.05, 0.3, 0.2, 0.6, 0, 0.7, -0.15, 0.35, -0.25, 0.1]],
  [2014.89, 2015.08, [0.2, -0.25, 0.4, 0.1, 0.55, 0.3, 0.7, 0.85, 0.5, 0.2, 0.35, 0, 0.4, 0.15, 0.3, -0.25]],
  [2015.33, 2015.33, [1.6]],
  [2015.905, 2016.08, [0.5, 0, 0.35, -0.1, 0.45, 0.2, 0.6, 0.1, 0.75, 0.3, 1.0, 0.5, 1.25, 0.8, 1.5, 1.2, 0.9, 0.3, 0.6]],
];
const harestuaGB: Seg[] = [
  [2012.92, 2013.09, [0.4, 0.6, 0.7, 0.5, 0.3, 0.45, 0.35, 0.2, 0.3, 0.25]],
  [2013.28, 2013.30, [0.45, 0.35]],
  [2013.89, 2014.06, [0.05, 0.1, 0, 0.15, 0.05, 0.1, 0.2, 0.1]],
  [2014.90, 2015.07, [0.15, 0.3, 0.25, 0.45, 0.35, 0.2, 0.3]],
  [2015.33, 2015.33, [0.42]],
  [2015.91, 2016.08, [0.05, 0.1, 0, 0.2, 0.95, 1.05, 0.45, 0.5]],
];

const stationTitles = ['Eureka UToronto [80°]', 'NyAlesund IUPB [79°]', 'Kiruna MPIC [68°]', 'Harestua BIRA [60°]'];
const gbNames = ['GB  UToronto', 'GB  IUPB', 'GB  MPIC', 'GB  BIRA'];

// ---------------- styling / layout ----------------
const PINK = 'rgb(255,152,152)';
const RED = '#ff0000';
const GRID = '#d5d5d5';
const AXIS = '#262626';
const TEXT = '#111111';
const FONT = '"DejaVu Sans", "Noto Sans", sans-serif';
const DOT = 3.4;

interface PanelCfg {
  idx: number;
  gome: Seg[];
  gb: Seg[];
  coinc: Seg[];
  top: number;
  height: number;
  areaTop: number;
  areaBottom: number;
  left: number;
  xMax: number;
  titleX: number;
  titleBase: number;
}

const panels: PanelCfg[] = [
  { idx: 0, gome: eurekaGome, gb: eurekaGB, coinc: eurekaCoinc, top: 0, height: 328, areaTop: 57, areaBottom: 303, left: 66, xMax: 2016.913, titleX: 467, titleBase: 33 },
  { idx: 1, gome: nyGome, gb: nyGB, coinc: nyCoinc, top: 328, height: 328, areaTop: 382, areaBottom: 628, left: 66, xMax: 2016.913, titleX: 467, titleBase: 358 },
  { idx: 2, gome: kirunaGome, gb: kirunaGB, coinc: kirunaCoinc, top: 656, height: 326, areaTop: 708, areaBottom: 953, left: 60, xMax: 2016.999, titleX: 461, titleBase: 684 },
  { idx: 3, gome: harestuaGome, gb: harestuaGB, coinc: harestuaCoinc, top: 982, height: 321, areaTop: 1036, areaBottom: 1282, left: 60, xMax: 2016.999, titleX: 461, titleBase: 1013 },
];

function toPoints(segs: Seg[]) {
  const pts: { x: number; y: number | null }[] = [];
  for (const [a, b, vals] of segs) {
    const n = vals.length;
    vals.forEach((v, i) => pts.push({ x: n > 1 ? a + ((b - a) * i) / (n - 1) : a, y: v }));
    pts.push({ x: b + 0.0005, y: null });
  }
  return pts;
}

function drawYTitle(ctx: CanvasRenderingContext2D, cx: number, cy: number) {
  const parts = [
    { t: 'OClO SCD', f: `bold 14px ${FONT}`, dy: 0 },
    { t: ' [x10', f: `15px ${FONT}`, dy: 0 },
    { t: '14', f: `10px ${FONT}`, dy: -6.5 },
    { t: ' molec/cm', f: `15px ${FONT}`, dy: 0 },
    { t: '2', f: `10px ${FONT}`, dy: -6.5 },
    { t: ']', f: `15px ${FONT}`, dy: 0 },
  ];
  ctx.save();
  let total = 0;
  const widths = parts.map((p) => {
    ctx.font = p.f;
    const w = ctx.measureText(p.t).width;
    total += w;
    return w;
  });
  ctx.translate(cx, cy);
  ctx.rotate(-Math.PI / 2);
  ctx.fillStyle = TEXT;
  ctx.textBaseline = 'alphabetic';
  ctx.textAlign = 'left';
  let x = -total / 2;
  parts.forEach((p, i) => {
    ctx.font = p.f;
    ctx.fillText(p.t, x, 5.5 + p.dy);
    x += widths[i];
  });
  ctx.restore();
}

function makeDecor(cfg: PanelCfg) {
  return {
    id: 'decor' + cfg.idx,
    beforeDatasetsDraw(chart: any) {
      const { ctx, chartArea: a } = chart;
      const xs = chart.scales.x;
      const ys = chart.scales.y;
      ctx.save();
      ctx.strokeStyle = '#000';
      ctx.lineWidth = 1;
      yearStarts.forEach((yr, i) => {
        if (i === 0) return;
        const px = Math.round(xs.getPixelForValue(yr)) + 0.5;
        ctx.beginPath();
        ctx.moveTo(px, a.top);
        ctx.lineTo(px, a.bottom);
        ctx.stroke();
      });
      ctx.fillStyle = TEXT;
      ctx.font = `bold 14.5px ${FONT}`;
      ctx.textBaseline = 'middle';
      ctx.textAlign = 'left';
      const y4 = ys.getPixelForValue(4) + 0.5;
      yearStarts.forEach((yr, i) => ctx.fillText(yearLabels[i], xs.getPixelForValue(yr) + 14, y4));
      ctx.font = `bold 11px ${FONT}`;
      ctx.fillStyle = '#000';
      ctx.fillText(gbNames[cfg.idx], a.left + 27, ys.getPixelForValue(3.5));
      ctx.fillStyle = RED;
      ctx.fillText('GOME-2A', a.left + 27, ys.getPixelForValue(3));
      ctx.restore();
    },
    afterDatasetsDraw(chart: any) {
      const { ctx, chartArea: a } = chart;
      const xs = chart.scales.x;
      const ys = chart.scales.y;
      ctx.save();
      ctx.strokeStyle = AXIS;
      ctx.lineWidth = 3;
      ctx.beginPath();
      ctx.moveTo(a.left, a.top);
      ctx.lineTo(a.left, a.bottom);
      ctx.lineTo(a.right + 2, a.bottom);
      ctx.stroke();
      ctx.lineWidth = 2.5;
      ctx.beginPath();
      xs.ticks.forEach((t: any) => {
        const px = xs.getPixelForValue(t.value);
        ctx.moveTo(px, a.bottom);
        ctx.lineTo(px, a.bottom - 8);
      });
      ys.ticks.forEach((t: any) => {
        const py = ys.getPixelForValue(t.value);
        ctx.moveTo(a.left, py);
        ctx.lineTo(a.left + 8, py);
      });
      ctx.stroke();
      ctx.restore();
    },
    afterDraw(chart: any) {
      const { ctx, chartArea: a } = chart;
      ctx.save();
      ctx.fillStyle = '#000';
      ctx.font = `bold 20.5px ${FONT}`;
      ctx.textAlign = 'center';
      ctx.textBaseline = 'alphabetic';
      ctx.fillText(stationTitles[cfg.idx], cfg.titleX, cfg.titleBase - cfg.top);
      ctx.restore();
      drawYTitle(ctx, cfg.left - 39, (a.top + a.bottom) / 2);
    },
  };
}

function Panel({ cfg }: { cfg: PanelCfg }) {
  const ref = useRef<HTMLCanvasElement>(null);
  useEffect(() => {
    const canvas = ref.current;
    if (!canvas) return;
    const padTop = cfg.areaTop - cfg.top;
    const xH = cfg.top + cfg.height - cfg.areaBottom;
    const tickFont = { family: FONT, size: 14.5 };
    const chart = new Chart(canvas, {
      type: 'line',
      data: {
        datasets: [
          {
            label: 'GOME-2A',
            data: toPoints(cfg.coinc),
            borderColor: RED,
            backgroundColor: RED,
            pointBackgroundColor: RED,
            borderWidth: 1.2,
            pointRadius: DOT,
            pointBorderWidth: 0,
            order: 0,
          },
          {
            label: gbNames[cfg.idx],
            data: toPoints(cfg.gb),
            borderColor: '#000',
            backgroundColor: '#000',
            pointBackgroundColor: '#000',
            borderDash: [3, 2],
            borderWidth: 1,
            pointRadius: DOT,
            pointBorderWidth: 0,
            order: 1,
          },
          {
            label: 'GOME-2A all',
            data: toPoints(cfg.gome),
            borderColor: PINK,
            backgroundColor: PINK,
            pointBackgroundColor: PINK,
            borderWidth: 1,
            pointRadius: DOT,
            pointBorderWidth: 0,
            order: 2,
          },
        ],
      } as any,
      options: {
        responsive: false,
        animation: false,
        events: [],
        spanGaps: false,
        layout: { padding: { top: padTop, left: 0, right: 1, bottom: 0 } },
        plugins: { legend: { display: false }, title: { display: false }, tooltip: { enabled: false } },
        elements: { line: { tension: 0 }, point: { borderWidth: 0, hoverRadius: DOT } },
        scales: {
          x: {
            type: 'linear',
            min: 2007,
            max: cfg.xMax,
            afterFit: (s: any) => {
              s.height = xH;
            },
            grid: { color: GRID, lineWidth: 3, drawTicks: false },
            border: { display: true, color: AXIS, width: 3 },
            ticks: {
              stepSize: 0.25,
              autoSkip: false,
              maxRotation: 0,
              minRotation: 0,
              includeBounds: false,
              padding: 7,
              color: TEXT,
              font: tickFont,
              callback: (v: any) => {
                const val = Number(v);
                const q = Math.round((val - Math.floor(val + 1e-6)) * 4) % 4;
                return quarterLabels[q];
              },
            },
          },
          y: {
            type: 'linear',
            min: -1,
            max: 4.5,
            afterFit: (s: any) => {
              s.width = cfg.left;
            },
            grid: {
              color: (c: any) => (c.tick && c.tick.value === -1 ? 'rgba(0,0,0,0)' : GRID),
              lineWidth: 2.5,
              drawTicks: false,
            },
            border: { display: true, color: AXIS, width: 3 },
            ticks: {
              stepSize: 1,
              includeBounds: false,
              padding: 7,
              color: TEXT,
              font: tickFont,
              callback: (v: any) => String(v),
            },
          },
        },
      } as any,
      plugins: [makeDecor(cfg)],
    });
    return () => chart.destroy();
  }, [cfg]);
  return (
    <canvas
      ref={ref}
      width={871}
      height={cfg.height}
      style={{ position: 'absolute', left: 0, top: cfg.top, display: 'block' }}
    />
  );
}

export default function App() {
  return (
    <div style={{ position: 'absolute', left: 0, top: 0, width: 871, height: 1303, background: '#fff', overflow: 'hidden' }}>
      {panels.map((p) => (
        <Panel key={p.idx} cfg={p} />
      ))}
    </div>
  );
}
